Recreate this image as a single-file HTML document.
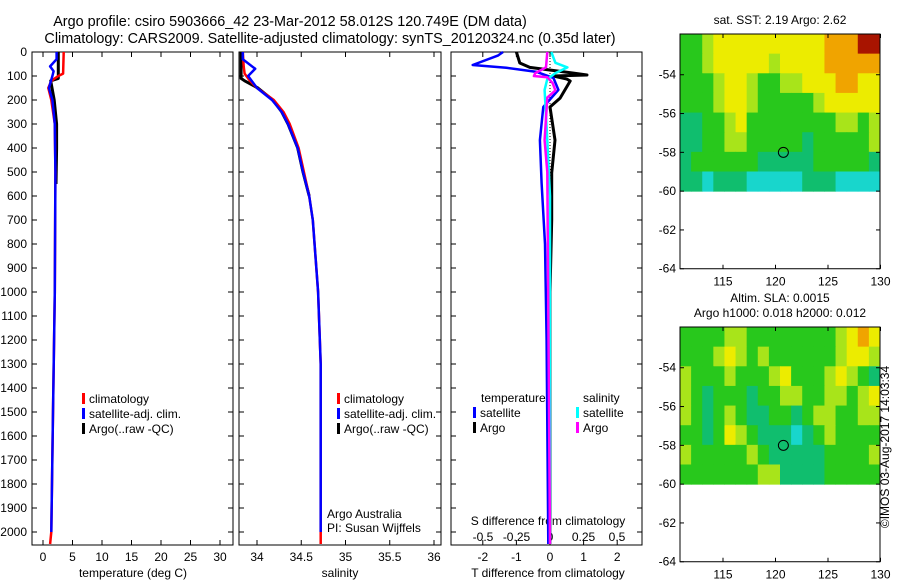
<!DOCTYPE html>
<html><head><meta charset="utf-8">
<style>
html,body{margin:0;padding:0;background:#fff;}
svg{display:block;font-family:"Liberation Sans",sans-serif;}
text{fill:#000;}
</style></head>
<body>
<svg id="fig" width="900" height="580" viewBox="0 0 900 580" xmlns="http://www.w3.org/2000/svg">
<text x="290" y="26" font-size="14.4" text-anchor="middle">Argo profile: csiro 5903666_42 23-Mar-2012 58.012S 120.749E (DM data)</text>
<text x="330" y="43" font-size="14.4" text-anchor="middle">Climatology: CARS2009. Satellite-adjusted climatology: synTS_20120324.nc (0.35d later)</text>
<g id="plots"></g>
</svg>
<script>
// ---- profile data (depth in m) ----
const tClimDepth = [0, 90, 100, 120, 150, 200, 300, 500, 1000, 1500, 2000, 2050];
const tClimVals  = [3.5, 3.4, 2.6, 1.4, 0.9, 1.4, 2.0, 2.1, 2.0, 1.7, 1.4, 1.2];
const tSatDepth  = [0, 30, 60, 80, 100, 150, 200, 300, 500, 1000, 1500, 2000];
const tSatVals   = [2.3, 2.3, 1.2, 1.8, 1.6, 1.0, 1.6, 2.0, 2.1, 2.0, 1.7, 1.4];
const tArgoDepth = [0, 110, 120, 200, 300, 400, 550];
const tArgoVals  = [2.6, 2.6, 1.3, 1.9, 2.3, 2.3, 2.2];

const sClimDepth = [0, 60, 90, 120, 150, 200, 250, 300, 400, 500, 600, 700, 1000, 1300, 2050];
const sClimVals  = [33.84, 33.85, 33.86, 33.92, 34.0, 34.19, 34.3, 34.37, 34.47, 34.53, 34.59, 34.63, 34.69, 34.72, 34.72];
const sSatDepth  = [0, 30, 70, 100, 150, 200, 250, 300, 400, 500, 600, 700, 1000, 1300, 2000];
const sSatVals   = [33.84, 33.84, 33.98, 33.9, 34.0, 34.17, 34.28, 34.35, 34.46, 34.52, 34.59, 34.63, 34.69, 34.72, 34.72];
const sArgoDepth = [0, 110, 120, 150, 200, 250, 300, 400, 500, 600];
const sArgoVals  = [33.82, 33.82, 33.86, 34.01, 34.18, 34.28, 34.35, 34.46, 34.52, 34.59];

const dTSatDepth  = [0, 15, 54, 66, 83, 108, 158, 229, 367, 546, 800, 1200, 2050];
const dTSatVals   = [-1.4, -1.55, -2.3, -1.3, -0.4, 0.1, 0.25, -0.2, -0.3, -0.25, -0.15, -0.1, -0.05];
const dTArgoDepth = [0, 46, 64, 88, 96, 100, 113, 121, 192, 229, 367, 504, 700, 1000, 2050];
const dTArgoVals  = [-1.0, -0.9, -0.6, 0.7, 1.1, 0.1, 0.5, 0.6, 0.3, 0.0, 0.15, 0.05, 0.05, 0.0, 0.0];
const dSSatDepth  = [0, 45, 64, 88, 113, 158, 367, 600, 2050];
const dSSatVals   = [0.01, 0.04, 0.13, 0.04, -0.02, -0.04, -0.02, 0, 0];
const dSArgoDepth = [0, 64, 88, 100, 105, 130, 160, 190, 367, 500, 2050];
const dSArgoVals  = [-0.02, -0.03, -0.11, -0.12, -0.02, 0.02, 0.04, -0.02, -0.04, -0.02, 0];

const depthTicks = [0,100,200,300,400,500,600,700,800,900,1000,1100,1200,1300,1400,1500,1600,1700,1800,1900,2000];
const tempTicks = [0,5,10,15,20,25,30];
const salTicks = [34,34.5,35,35.5,36];
const tDiffTicks = [-2,-1,0,1,2];
const sDiffTicks = [-0.5,-0.25,0,0.25,0.5];

// ---- map data (rows top->bottom, lat ~-51.9 to -60; cols lon 110.8 to 130.2) ----
const sstGrid = [
 [2,2,3,4,4,4,4,4,4,4,4,4,4,5,5,5,6,6],
 [2,2,3,4,4,4,4,4,3,4,4,4,4,5,5,5,5,5],
 [2,2,2,3,4,4,3,2,2,3,3,4,4,4,5,5,4,4],
 [2,2,2,3,4,4,3,2,2,2,2,2,3,4,4,4,4,4],
 [1,1,2,2,3,4,2,2,2,2,2,2,2,2,3,3,2,3],
 [1,1,2,2,3,3,2,2,2,2,2,1,2,2,2,2,2,3],
 [1,2,2,2,2,2,2,1,1,1,1,1,2,2,2,2,2,1],
 [1,1,0,1,1,1,0,0,0,0,0,1,1,1,0,0,0,0]];
const slaGrid = [
 [2,2,2,2,3,3,2,2,2,2,2,2,2,2,3,4,5,4],
 [2,2,2,3,4,3,2,3,2,2,2,2,2,2,3,4,4,3],
 [3,2,2,2,3,2,2,2,3,4,2,2,2,3,4,3,2,1],
 [3,2,1,2,2,2,1,2,2,3,3,2,2,3,3,2,3,4],
 [3,2,1,2,3,2,1,1,2,2,1,2,3,3,2,2,3,3],
 [2,2,1,2,4,3,2,1,1,1,0,1,2,3,2,2,2,2],
 [3,2,2,2,2,2,3,2,1,1,1,1,1,2,2,2,2,3],
 [2,2,2,2,2,2,2,3,3,1,1,1,1,2,2,2,2,2]];
const latTicks = [-54,-56,-58,-60,-62,-64];
const lonTicks = [115,120,125,130];
const floatPos = [120.75, -58.0];

const NS='http://www.w3.org/2000/svg';
const root=document.getElementById('plots');
function el(tag,attrs,parent){const e=document.createElementNS(NS,tag);for(const k in attrs)e.setAttribute(k,attrs[k]);(parent||root).appendChild(e);return e;}
function txt(s,x,y,anchor,size,parent){const t=el('text',{x:x,y:y,'text-anchor':anchor||'start','font-size':size||12},parent);t.textContent=s;return t;}

const Y0=52, YB=545, PXM=0.24;
const yD=d=>Y0+d*PXM;

function panel(name,x0,x1){
  const g=el('g',{});
  
  
  const r=el('rect',{x:x0,y:Y0,width:x1-x0,height:YB-Y0,fill:'none',stroke:'#000','stroke-width':1},g);
  
  
  depthTicks.forEach(d=>{
    el('line',{x1:x0,x2:x0+5,y1:yD(d),y2:yD(d),stroke:'#000'},g);
    el('line',{x1:x1,x2:x1-5,y1:yD(d),y2:yD(d),stroke:'#000'},g);
  });
  return g;
}
function line(g,name,xs,ds,fx,color,w,dash){
  const pts=xs.map((v,i)=>fx(v).toFixed(1)+','+yD(ds[i]).toFixed(1)).join(' ');
  const p=el('polyline',{points:pts,fill:'none',stroke:color,'stroke-width':w||2.5,'stroke-linejoin':'round'},g);
  if(dash)p.setAttribute('stroke-dasharray',dash);
  
  
}
function xticks(g,ticks,fx,y,x0,x1,top){
  ticks.forEach(t=>{
    const x=fx(t);
    el('line',{x1:x,x2:x,y1:YB,y2:YB-5,stroke:'#000'},g);
    if(top) el('line',{x1:x,x2:x,y1:Y0,y2:Y0+5,stroke:'#000'},g);
    const lb=txt(String(t),x,y,'middle',12,g);
    
    
  });
}
function legend(g,x,y,items){
  items.forEach((it,i)=>{
    const m=el('rect',{x:x,y:y+i*15-10,width:3,height:11,fill:it[1]},g);
    
    
    const t=txt(it[0],x+7,y+i*15,'start',12,g);
    
    
  });
}

// temperature panel
const fT=v=>43+v*5.9;
const gT=panel('temperature-panel',32,233);
depthTicks.forEach(d=>{const t=txt(String(d),27,yD(d)+4,'end',12,gT);});
xticks(gT,tempTicks,fT,561,32,233,true);
const tx1=txt('temperature (deg C)',133,577,'middle',12,gT);

line(gT,'temp-argo-line',tArgoVals,tArgoDepth,fT,'#000',3);
line(gT,'temp-climatology-line',tClimVals,tClimDepth,fT,'#f00',2.5);
line(gT,'temp-satellite-line',tSatVals,tSatDepth,fT,'#00f',2.5);
legend(gT,82,403,[['climatology','#f00'],['satellite-adj. clim.','#00f'],['Argo(..raw -QC)','#000']]);

// salinity panel
const fS=v=>257+(v-34)*88.5;
const gS=panel('salinity-panel',239,441);
xticks(gS,salTicks,fS,561,239,441,true);
const tx2=txt('salinity',340,577,'middle',12,gS);

line(gS,'sal-argo-line',sArgoVals,sArgoDepth,fS,'#000',3);
line(gS,'sal-climatology-line',sClimVals,sClimDepth,fS,'#f00',2.5);
line(gS,'sal-satellite-line',sSatVals,sSatDepth,fS,'#00f',2.5);
legend(gS,337,403,[['climatology','#f00'],['satellite-adj. clim.','#00f'],['Argo(..raw -QC)','#000']]);
const a1=txt('Argo Australia',327,518,'start',12,gS);
const a2=txt('PI: Susan Wijffels',327,532,'start',12,gS);

// difference panel
const fDT=v=>550+v*33.6;
const fDS=v=>550+v*134;
const gD=panel('difference-panel',451,642);
xticks(gD,tDiffTicks,fDT,561,451,642,true);
sDiffTicks.forEach(t=>{const lb=txt(String(t),fDS(t),541,'middle',12,gD);});
const tx3=txt('T difference from climatology',548,577,'middle',12,gD);
const tx4=txt('S difference from climatology',548,525,'middle',12,gD);
const zl=el('line',{x1:550,x2:550,y1:Y0,y2:YB-40,stroke:'#000','stroke-dasharray':'1,2'},gD);

line(gD,'dT-argo-line',dTArgoVals,dTArgoDepth,fDT,'#000',3);
line(gD,'dT-satellite-line',dTSatVals,dTSatDepth,fDT,'#00f',2.5);
line(gD,'dS-satellite-line',dSSatVals,dSSatDepth,fDS,'#0ff',2.5);
line(gD,'dS-argo-line',dSArgoVals,dSArgoDepth,fDS,'#f0f',2.5);
const lt=txt('temperature',481,402,'start',12,gD);
const ls=txt('salinity',583,402,'start',12,gD);
legend(gD,473,417,[['satellite','#00f'],['Argo','#000']]);
legend(gD,576,417,[['satellite','#0ff'],['Argo','#f0f']]);

// maps
const cmap=['#18d6cc','#10be6e','#28c81c','#a8e41a','#ecec00','#f0a400','#a81400'];
function map(name,top,grid,t1){
  const g=el('g',{});
  
  
  const L=680,R=880,latTop=-51.9;
  const fy=lat=>top+(latTop-lat)*19.4;
  const fx=lon=>723+(lon-115)*10.5;
  const bottom=fy(-64);
  const rows=grid.length, cols=grid[0].length;
  const cw=(R-L)/cols, ch=(fy(-60)-top)/rows;
  grid.forEach((row,i)=>row.forEach((v,j)=>{
    const c=el('rect',{x:L+j*cw,y:top+i*ch,width:cw+0.5,height:ch+0.5,fill:cmap[v]},g);
    
    
  }));
  const fr=el('rect',{x:L,y:top,width:R-L,height:bottom-top,fill:'none',stroke:'#000'},g);
  
  latTicks.forEach(la=>{const y=fy(la);el('line',{x1:L,x2:L+4,y1:y,y2:y,stroke:'#000'},g);el('line',{x1:R,x2:R-4,y1:y,y2:y,stroke:'#000'},g);
    const lb=txt(String(la),676,y+4,'end',12,g);});
  lonTicks.forEach(lo=>{const x=fx(lo);el('line',{x1:x,x2:x,y1:bottom,y2:bottom-4,stroke:'#000'},g);el('line',{x1:x,x2:x,y1:top,y2:top+4,stroke:'#000'},g);
    const lb=txt(String(lo),x,bottom+17,'middle',12,g);});
  const m=el('circle',{cx:fx(floatPos[0]),cy:fy(floatPos[1]),r:5,fill:'none',stroke:'#000'},g);
  
  t1.forEach((s,k)=>{const t=txt(s,780,top-10-(t1.length-1-k)*15,'middle',12,g);});
}
map('sst-map',34,sstGrid,['sat. SST: 2.19 Argo: 2.62']);
map('sla-map',327,slaGrid,['Altim. SLA: 0.0015','Argo h1000: 0.018 h2000: 0.012']);

const cp=txt('\u00a9IMOS 03-Aug-2017 14:03:34',0,0,'middle',12);
cp.setAttribute('transform','translate(889,447) rotate(-90)');


</script>
</body></html>
